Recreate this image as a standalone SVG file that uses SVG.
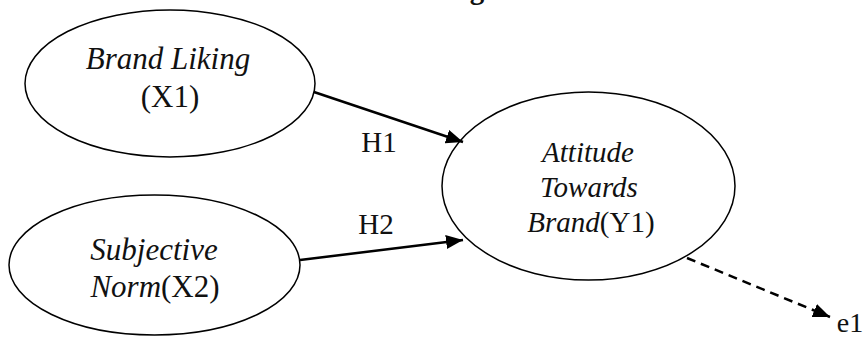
<svg xmlns="http://www.w3.org/2000/svg" width="867" height="338" viewBox="0 0 867 338">
<style>
.node{fill:#fff;stroke:#000;stroke-width:1.5}
.t{font-family:"Liberation Serif","Times New Roman",serif;fill:#111;text-anchor:middle}
.i{font-style:italic}
.edge{stroke:#000;stroke-width:2.5;fill:none}
.dash{stroke-dasharray:9 6}
</style>
<defs>
<marker id="ah" markerUnits="userSpaceOnUse" markerWidth="18" markerHeight="14" refX="17" refY="7" orient="auto">
<path d="M0,0 L17,7 L0,14 Z" fill="#000"/>
</marker>
</defs>
<text class="t" x="477" y="-1" font-size="29" font-weight="bold">g</text>
<g id="n1">
<ellipse class="node" cx="170" cy="83.5" rx="145" ry="73.5"/>
<text class="t i" x="168" y="69" font-size="31">Brand Liking</text>
<text class="t" x="170" y="107" font-size="31">(X1)</text>
</g>
<g id="n2">
<ellipse class="node" cx="154.5" cy="265" rx="145.5" ry="70"/>
<text class="t i" x="154" y="260" font-size="31">Subjective</text>
<text class="t" x="155" y="297" font-size="31"><tspan class="i">Norm</tspan>(X2)</text>
</g>
<g id="n3">
<ellipse class="node" cx="588.5" cy="186" rx="146.5" ry="94"/>
<text class="t i" x="588" y="162" font-size="29">Attitude</text>
<text class="t i" x="589" y="197" font-size="29">Towards</text>
<text class="t" x="591" y="232" font-size="29"><tspan class="i">Brand</tspan>(Y1)</text>
</g>
<g id="e1node">
<text class="t" x="850" y="332" font-size="28">e1</text>
</g>
<g id="connectors">
<line class="edge" x1="314" y1="92" x2="463" y2="142" marker-end="url(#ah)"/>
<line class="edge" x1="300" y1="260" x2="463" y2="240" marker-end="url(#ah)"/>
<line class="edge dash" x1="687" y1="258" x2="830" y2="317" marker-end="url(#ah)"/>
<text class="t" x="379" y="152" font-size="29">H1</text>
<text class="t" x="376" y="234" font-size="29">H2</text>
</g>
</svg>
